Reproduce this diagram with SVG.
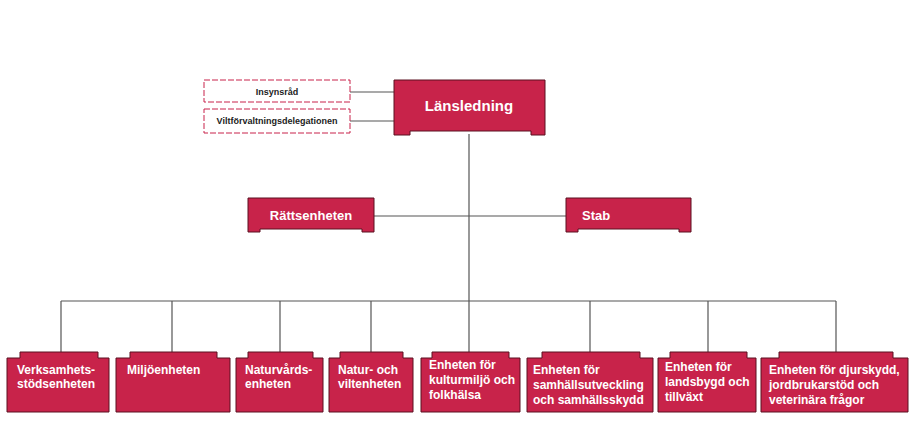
<svg xmlns="http://www.w3.org/2000/svg" width="914" height="425" viewBox="0 0 914 425">
<style>
.b{fill:#c8234a;stroke:#5a1020;stroke-width:1}
.t{font-family:"Liberation Sans",Arial,sans-serif;font-weight:bold;fill:#fff;font-size:12px}
.d{fill:#fff;stroke:#c8234a;stroke-width:1;stroke-dasharray:6 2}
.k{font-family:"Liberation Sans",Arial,sans-serif;font-weight:bold;fill:#222;font-size:9px}
.c{stroke:#555;stroke-width:1.2;fill:none}
</style>
<rect width="914" height="425" fill="#fff"/>
<g id="connectors">
<path class="c" d="M350 92H394M350 121H394M469 134V301M374 216H566M61 301H836M61 301V352M172 301V352M280 301V352M371 301V352M469 301V352M590 301V352M708 301V352M836 301V352"/>
</g>
<g id="insynsrad"><rect class="d" x="204" y="80" width="146" height="22"/><text class="k" x="277" y="95" text-anchor="middle">Insynsråd</text></g>
<g id="vilt"><rect class="d" x="204" y="109" width="146" height="24"/><text class="k" x="277" y="124" text-anchor="middle">Viltförvaltningsdelegationen</text></g>
<g id="lansledning"><path class="b" d="M394 80H545V135H531V131H410V135H394Z"/><text class="t" style="font-size:15px" x="469" y="111" text-anchor="middle">Länsledning</text></g>
<g id="rattsenheten"><path class="b" d="M248 198H374V232H362V229H260V232H248Z"/><text class="t" style="font-size:13px" x="311" y="220" text-anchor="middle">Rättsenheten</text></g>
<g id="stab"><path class="b" d="M566 198H691V232H679V229H578V232H566Z"/><text class="t" style="font-size:13px" x="582" y="220">Stab</text></g>
<g id="n1"><path class="b" d="M7 358H20V352H98V358H109V412H7Z"/><text class="t" x="17" y="374">Verksamhets-</text><text class="t" x="17" y="388">stödsenheten</text></g>
<g id="n2"><path class="b" d="M116 358H130V352H217V358H230V412H116Z"/><text class="t" x="127" y="374">Miljöenheten</text></g>
<g id="n3"><path class="b" d="M236 358H248V352H313V358H323V412H236Z"/><text class="t" x="245" y="374">Naturvårds-</text><text class="t" x="245" y="388">enheten</text></g>
<g id="n4"><path class="b" d="M329 358H340V352H403V358H413V412H329Z"/><text class="t" x="338" y="374">Natur- och</text><text class="t" x="338" y="388">viltenheten</text></g>
<g id="n5"><path class="b" d="M421 358H432V352H509V358H520V412H421Z"/><text class="t" x="429" y="369">Enheten för</text><text class="t" x="429" y="384">kulturmiljö och</text><text class="t" x="429" y="399">folkhälsa</text></g>
<g id="n6"><path class="b" d="M527 358H542V352H640V358H653V412H527Z"/><text class="t" x="533" y="374">Enheten för</text><text class="t" x="533" y="389">samhällsutveckling</text><text class="t" x="533" y="404">och samhällsskydd</text></g>
<g id="n7"><path class="b" d="M658 358H670V352H747V358H756V412H658Z"/><text class="t" x="665" y="371">Enheten för</text><text class="t" x="665" y="386">landsbygd och</text><text class="t" x="665" y="401">tillväxt</text></g>
<g id="n8"><path class="b" d="M761 358H779V352H893V358H908V412H761Z"/><text class="t" x="769" y="374">Enheten för djurskydd,</text><text class="t" x="769" y="389">jordbrukarstöd och</text><text class="t" x="769" y="404">veterinära frågor</text></g>
</svg>
